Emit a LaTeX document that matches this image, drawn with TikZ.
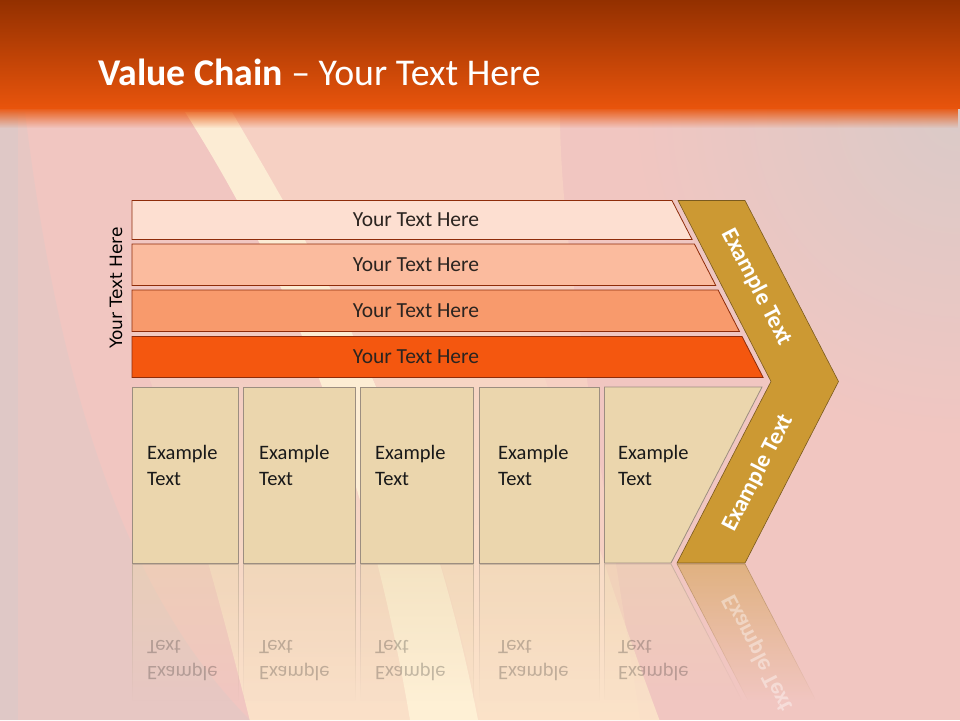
\documentclass[tikz,border=0pt]{standalone}
\usepackage{fontspec}
\setmainfont{Carlito}
\newfontfamily\sidefont{DejaVu Sans}
\usetikzlibrary{positioning,fadings}

\definecolor{hdtop}{HTML}{933000}
\definecolor{hdbot}{HTML}{E8540C}
\definecolor{bgpink}{HTML}{F1C6C1}
\definecolor{bggrey}{HTML}{DACAC8}
\definecolor{bgmauve}{HTML}{E4C8C5}
\definecolor{bgpeach}{HTML}{F8D3C4}
\definecolor{bgwarm}{HTML}{FCE6CA}
\definecolor{beam}{HTML}{FFF3D8}
\definecolor{barA}{HTML}{FDDFD1}
\definecolor{barB}{HTML}{FBBB9E}
\definecolor{barC}{HTML}{F89A6C}
\definecolor{barD}{HTML}{F4570F}
\definecolor{barline}{HTML}{8E2C0A}
\definecolor{bartxt}{HTML}{2B2420}
\definecolor{cellfill}{HTML}{EBD6AD}
\definecolor{cellline}{HTML}{9C8E80}
\definecolor{chevfill}{HTML}{CC9933}
\definecolor{chevline}{HTML}{7A5A1E}

\tikzfading[name=fadedown, top color=transparent!55, bottom color=transparent!100]
\tikzfading[name=bandfade, top color=transparent!0, bottom color=transparent!100]
\tikzfading[name=fadeup, top color=transparent!90, bottom color=transparent!15]

\tikzset{
    %Define style for the bars
    bar/.style={
           draw=barline,
           line width=0.8pt},
    bartext/.style={
           font=\fontsize{21.5}{24}\selectfont,
           text=bartxt},
    %Define style for the lower cells
    cell/.style={
           draw=cellline,
           fill=cellfill,
           line width=0.8pt},
    celltext/.style={
           font=\fontsize{20.5}{26}\selectfont,
           align=left,
           anchor=west,
           inner sep=0pt,
           text=black!90},
    %Define style for the chevron
    chev/.style={
           draw=chevline,
           fill=chevfill,
           line width=0.6pt},
    chevtext/.style={
           font=\bfseries\fontsize{23.5}{26}\selectfont,
           text=white},
    % reflections
    refl/.style={
           path fading=fadedown},
    refltext/.style={
           text opacity=0.25}
}

\begin{document}
\begin{tikzpicture}[x=1pt,y=-1pt]
\useasboundingbox (0,0) rectangle (960,720);
\clip (0,0) rectangle (960,720);
 %background
\fill[bgpink] (0,0) rectangle (960,720);
\shade[inner color=bggrey, outer color=bgpink] (960,110) circle (330);
\fill[bgmauve, opacity=0.7] (0,112) -- (25,112) .. controls (60,400) and (130,600) .. (250,720) -- (0,720) -- cycle;
\fill[bggrey, opacity=0.6] (0,112) rectangle (18,720);
\fill[bgpeach, opacity=0.8] (232,112) .. controls (300,230) and (420,420) .. (480,720) -- (640,720) .. controls (600,450) and (560,250) .. (560,112) -- cycle;
\fill[bgwarm, path fading=fadeup] (120,300) .. controls (180,450) and (220,600) .. (250,720) -- (660,720) .. controls (600,560) and (560,420) .. (520,300) -- cycle;
\fill[beam, opacity=0.85] (185,112) .. controls (260,230) and (360,420) .. (410,720) -- (478,720) .. controls (420,420) and (300,230) .. (232,112) -- cycle;
 %header
\shade[top color=hdtop, bottom color=hdbot] (0,0) rectangle (960,108);
\fill[hdbot, path fading=bandfade] (0,107) rectangle (960,128);
\node[anchor=base west, inner sep=0pt, text=white, font=\fontsize{37.8}{40}\selectfont] (title) at (98,85) {\textbf{Value Chain} -- Your Text Here};
 %side label
\node[rotate=90, font=\sidefont\fontsize{17}{20}\selectfont] (side) at (116,288) {Your Text Here};
 %bars
\foreach \t/\b/\c [count=\i] in {200.5/239.5/barA, 244/285.5/barB, 290/331.5/barC, 336.5/377.5/barD}{
    \filldraw[bar, fill=\c] (132,\t) -- ({672+0.515*(\t-200.5)},\t) -- ({672+0.515*(\b-200.5)},\b) -- (132,\b) -- cycle;
    \node[bartext] (bar\i) at (416,{(\t+\b)/2}) {Your Text Here};
}
 %cells
\foreach \l/\r/\tx [count=\i] in {132/238.5/147, 243.5/355.5/259, 360.5/473.5/375, 479.5/599.5/498}{
    \filldraw[cell] (\l,387) rectangle (\r,563);
    \node[celltext] (cell\i) at (\tx,465) {Example\\Text};
}
\filldraw[cell] (604.5,387) -- (762,387) -- (671,563) -- (604.5,563) -- cycle;
\node[celltext] (cell5) at (618,465) {Example\\Text};
 %chevron
\filldraw[chev] (678,200.5) -- (745,200.5) -- (838.5,381.5) -- (745,563) -- (677,563) -- (771,381.5) -- cycle;
\node[chevtext, rotate=-62.7] (chevup) at (757,287) {Example Text};
\node[chevtext, rotate=62.7] (chevlow) at (758,473) {Example Text};
 %reflection
\foreach \l/\r/\tx [count=\i] in {132/238.5/147, 243.5/355.5/259, 360.5/473.5/375, 479.5/599.5/498}{
    \filldraw[cell, refl] (\l,564) rectangle (\r,700);
    \node[celltext, refltext, yscale=-1] (mirror\i) at (\tx,661) {Example\\Text};
}
\filldraw[cell, refl] (604.5,564) -- (671,564) -- (741.7,700) -- (604.5,700) -- cycle;
\node[celltext, refltext, yscale=-1] (mirror5) at (618,661) {Example\\Text};
\filldraw[chev, refl] (677,564) -- (745,564) -- (815.6,700) -- (747.7,700) -- cycle;
\node[chevtext, text opacity=0.4, yscale=-1, rotate=62.7] (chevmirror) at (758,653) {Example Text};
\end{tikzpicture}
\end{document}
